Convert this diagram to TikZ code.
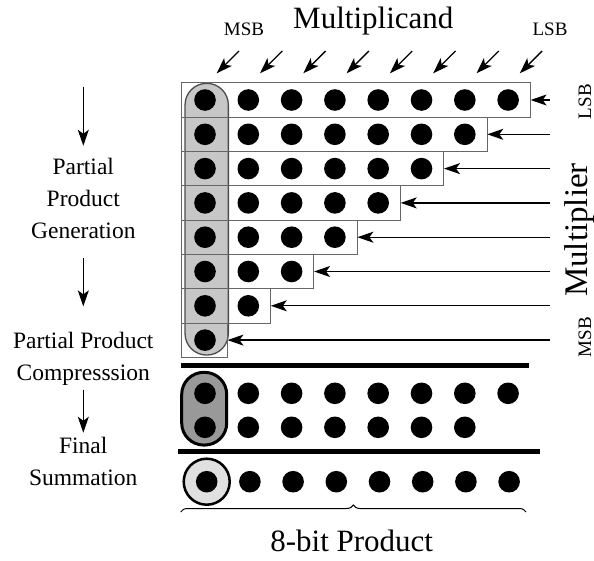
\documentclass[tikz,border=0pt]{standalone}
\usepackage{fontspec}
\setmainfont{Liberation Serif}
\usetikzlibrary{arrows.meta, positioning, decorations.pathreplacing}
\tikzset{
	arr/.style={-{Stealth[length=16pt, width=11pt, inset=4pt]}},
	dot/.style={circle, fill=black, inner sep=0pt, minimum size=21.6pt},
	rowbox/.style={draw=black!60, line width=0.8pt, inner sep=0pt, minimum height=34.3pt, anchor=west},
	bar/.style={line width=5pt},
	side/.style={align=center, font=\fontsize{23.5}{32}\selectfont},
	small/.style={font=\fontsize{19}{19}\selectfont, inner sep=0pt}
}

\begin{document}
\begin{tikzpicture}[x=1pt, y=-1pt, line width=1.3pt]
	\useasboundingbox (0,0) rectangle (594,560);
	% partial products
	\node[draw=black!70, fill=black!22, rounded corners=21.5pt, minimum width=43.3pt, minimum height=271.7pt, inner sep=0pt] (msbcol) at (206.7,219.2) {};
	\foreach \r in {1,...,8}{
		\pgfmathsetmacro{\yy}{100+(\r-1)*34.3}
		\pgfmathsetmacro{\ww}{24.3+(8-\r)*43.3+21.7}
		\node[rowbox, minimum width=\ww pt] (row\r) at (180.7,\yy) {};
		\coordinate (in\r) at (550,\yy);
		\draw [arr](in\r) -- (row\r.east);
		\pgfmathtruncatemacro{\nn}{9-\r}
		\foreach \c in {1,...,\nn}
			\node[dot] (p\r\c) at (205+\c*43.3-43.3,\yy) {};
	}
	% multiplicand bits
	\foreach \c in {1,...,8}{
		\coordinate (mt\c) at (239+\c*43.3-43.3,51);
		\coordinate (mh\c) at (216.7+\c*43.3-43.3,73.3);
		\draw [arr](mt\c) -- (mh\c);
	}
	\node[font=\fontsize{31}{31}\selectfont] (mcand) at (373.3,21) {Multiplicand};
	\node[small] (msbt) at (244,29) {MSB};
	\node[small] (lsbt) at (550,29) {LSB};
	\node[small, rotate=90] (lsbr) at (585,101.7) {LSB};
	\node[small, rotate=90] (msbr) at (585,337) {MSB};
	\node[font=\fontsize{33}{33}\selectfont, inner sep=0pt, rotate=90] (mplier) at (580,230) {Multiplier};

	% compression
	\coordinate (b1l) at (180.7,365); \coordinate (b1r) at (529.3,365);
	\draw [bar](b1l) -- (b1r);
	\node[draw, line width=3pt, fill=black!40, rounded corners=22pt, minimum width=45pt, minimum height=72.7pt, inner sep=0pt] (carry) at (204.2,408.7) {};
	\foreach \c in {1,...,8}
		\node[dot] (s\c) at (205+\c*43.3-43.3,393.3) {};
	\foreach \c in {1,...,7}
		\node[dot] (t\c) at (205+\c*43.3-43.3,427.3) {};
	\coordinate (b2l) at (178.3,451.7); \coordinate (b2r) at (540,451.7);
	\draw [bar](b2l) -- (b2r);

	% final sum
	\node[circle, draw, line width=2.5pt, fill=black!12, minimum size=46pt, inner sep=0pt] (ring) at (206.7,481.7) {};
	\foreach \c in {1,...,8}
		\node[dot] (f\c) at (206.7+\c*43.2-43.2,481.7) {};
	\coordinate (brl) at (180.7,512); \coordinate (brr) at (526,512);
	\draw [line width=1pt, decorate, decoration={brace, amplitude=7pt}](brl) -- (brr);
	\node[font=\fontsize{31}{31}\selectfont] (prod) at (351.7,541) {8-bit Product};

	% stages
	\node[side] (gen) at (83.3,198) {Partial\\Product\\Generation};
	\node[side] (comp) at (83.3,359) {Partial Product\\Compresssion};
	\node[side] (fin) at (83.3,461) {Final\\Summation};
	\coordinate (top) at (83.3,86.7);
	\draw [arr, shorten >=8pt](top) -- (gen);
	\draw [arr, shorten <=16pt, shorten >=22pt](gen) -- (comp);
	\draw [arr](comp) -- (fin);
\end{tikzpicture}
\end{document}
